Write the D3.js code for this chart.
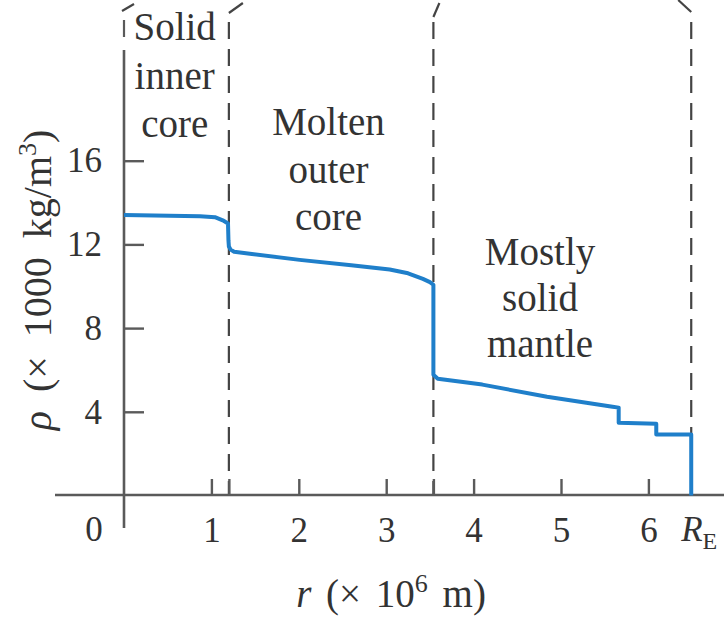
<!DOCTYPE html>
<html><head><meta charset="utf-8">
<script src="https://cdn.jsdelivr.net/npm/d3@7"></script>
<style>
body{margin:0;background:#fff;}
svg{display:block;}
text{font-family:"Liberation Serif","Times New Roman",serif;fill:#333;}
</style></head>
<body><div id="chart"></div>
<script>
// radius (x 10^6 m) and density (x 1000 kg/m^3)
const radius  = [0, 0.87, 1.04, 1.13, 1.19, 1.195, 1.20, 1.22, 1.26, 1.44, 2.01, 2.6, 3.04, 3.25, 3.42, 3.50, 3.54, 3.54, 3.59, 4.1, 4.84, 5.59, 5.66, 5.66, 6.09, 6.09, 6.49, 6.49];
const density = [13.4, 13.35, 13.3, 13.15, 13.0, 12.2, 11.9, 11.75, 11.65, 11.55, 11.26, 11.0, 10.8, 10.62, 10.35, 10.2, 10.07, 5.77, 5.58, 5.3, 4.72, 4.24, 4.2, 3.48, 3.43, 2.91, 2.91, 0];
const yTicks = [4, 8, 12, 16];
const xTicks = [1, 1.2, 2, 3, 3.54, 4, 5, 6];
const xTickLabels = ["1", "", "2", "3", "", "4", "5", "6"];
const boundaries = [1.2, 3.54, 6.49];
const rE = 6.49;
const regionNames = [["Solid", "inner", "core"], ["Molten", "outer", "core"], ["Mostly", "solid", "mantle"]];
const regionCenters = [0.58, 2.34, 4.76];

const W = 724, H = 617;
const svg = d3.select("#chart").append("svg").attr("width", W).attr("height", H);
const x = d3.scaleLinear().domain([0, 6]).range([124, 648.4]);
const y = d3.scaleLinear().domain([0, 16]).range([495.5, 160.7]);

const axisColor = "#5a5a5a";

// dashed boundary lines
boundaries.forEach(b => {
  svg.append("line").attr("x1", x(b)).attr("x2", x(b)).attr("y1", 22).attr("y2", 495)
    .attr("stroke", "#444").attr("stroke-width", 2.2).attr("stroke-dasharray", "17,10");
});
// bracket tips at top
const tips = [[x(0)-2, 11, x(0)+10, 4], [x(1.2), 13, x(1.2)+14, 3], [x(3.54), 17, x(3.54)+6, 3], [x(rE), 12, x(rE)-13, 0]];
tips.forEach(t => svg.append("line").attr("x1", t[0]).attr("y1", t[1]).attr("x2", t[2]).attr("y2", t[3])
  .attr("stroke", "#444").attr("stroke-width", 2.2));
svg.append("line").attr("x1", x(0)).attr("x2", x(0)).attr("y1", 20).attr("y2", 37)
  .attr("stroke", axisColor).attr("stroke-width", 2.2);

// axes lines
svg.append("line").attr("x1", 55).attr("x2", 724).attr("y1", 495).attr("y2", 495)
  .attr("stroke", axisColor).attr("stroke-width", 2.6);
svg.append("line").attr("x1", x(0)).attr("x2", x(0)).attr("y1", 50).attr("y2", 528)
  .attr("stroke", axisColor).attr("stroke-width", 2.6);

// y axis ticks
const yAxis = d3.axisLeft(y).tickValues(yTicks).tickSize(-20).tickPadding(22).tickFormat(d3.format("d"));
const gy = svg.append("g").attr("transform", `translate(${x(0)},0)`).call(yAxis);
gy.select(".domain").remove();
gy.selectAll(".tick line").attr("stroke", axisColor).attr("stroke-width", 2.4);
gy.selectAll(".tick text").attr("font-size", 35).attr("fill", "#333")
  .attr("font-family", "Liberation Serif, serif");

// x axis ticks
const xAxis = d3.axisBottom(x).tickValues(xTicks).tickSize(-16).tickPadding(22)
  .tickFormat((d, i) => xTickLabels[i]);
const gx = svg.append("g").attr("transform", "translate(0,495)").call(xAxis);
gx.select(".domain").remove();
gx.selectAll(".tick line").attr("stroke", axisColor).attr("stroke-width", 2.4);
gx.selectAll(".tick text").attr("font-size", 35).attr("fill", "#333")
  .attr("font-family", "Liberation Serif, serif");

svg.append("text").attr("x", x(0) - 30).attr("y", 541).attr("text-anchor", "middle")
  .attr("font-size", 35).text("0");
const re = svg.append("text").attr("x", x(rE) - 10).attr("y", 541).attr("font-size", 35);
re.append("tspan").attr("font-style", "italic").text("R");
re.append("tspan").attr("font-size", 24).attr("dy", 8).text("E");

// density curve
const line = d3.line().x((d, i) => x(radius[i])).y((d, i) => y(density[i]));
svg.append("path").datum(density).attr("d", line).attr("fill", "none")
  .attr("stroke", "#1f7fca").attr("stroke-width", 4).attr("stroke-linejoin", "round");

// region labels
const baselines = [[40, 89, 137], [135, 183, 230], [265, 311, 357]];
regionNames.forEach((lines, gi) => {
  lines.forEach((s, li) => {
    svg.append("text").attr("x", x(regionCenters[gi])).attr("y", baselines[gi][li]).attr("text-anchor", "middle")
      .attr("font-size", 39).text(s);
  });
});

// y axis title
const yt = svg.append("text").attr("transform", "translate(51,280) rotate(-90)")
  .attr("text-anchor", "middle").attr("font-size", 40).attr("word-spacing", 9);
yt.append("tspan").attr("font-style", "italic").text("ρ");
yt.append("tspan").text(" (× 1000 kg/m");
yt.append("tspan").attr("font-size", 26).attr("dy", -15).text("3");
yt.append("tspan").attr("dy", 15).text(")");

// x axis title
const xt = svg.append("text").attr("x", 391).attr("y", 607).attr("text-anchor", "middle")
  .attr("font-size", 39).attr("word-spacing", 5);
xt.append("tspan").attr("font-style", "italic").text("r");
xt.append("tspan").text(" (× 10");
xt.append("tspan").attr("font-size", 26).attr("dy", -15).text("6");
xt.append("tspan").attr("dy", 15).text(" m)");
</script></body></html>
